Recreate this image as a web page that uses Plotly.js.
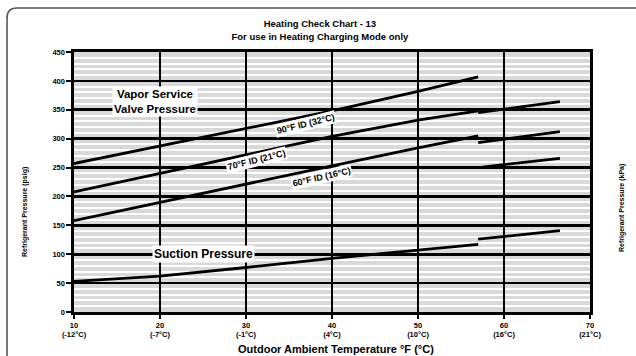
<!DOCTYPE html>
<html>
<head>
<meta charset="utf-8">
<script src="https://cdn.plot.ly/plotly-3.0.1.min.js"></script>
<style>
  html, body { margin: 0; padding: 0; background: #ffffff; }
  #chart { width: 636px; height: 356px; }
</style>
</head>
<body>
<div id="chart"></div>
<script>
// Outdoor ambient temperature (°F) for the main run of each curve
const tempF = [10, 20, 30, 40, 50, 57];
// Vapor service valve pressure (psig) by indoor temperature
const id90 = [257, 287, 317, 348, 382, 407];
const id70 = [208, 240, 272, 304, 332, 348];
const id60 = [158, 190, 221, 253, 284, 305];
// Suction pressure (psig)
const suction = [53, 62, 77, 93, 107, 117];

// Upper temperature range, drawn as separate segments after the step
const tempFHigh = [57, 66.5];
const id70High = [345, 364];
const id60High = [293, 312];
const lowerHigh = [250, 266];
const suctionHigh = [126, 141];

// Axis ticks
const xTickF = [10, 20, 30, 40, 50, 60, 70];
const xTickC = ['-12°C', '-7°C', '-1°C', '4°C', '10°C', '16°C', '21°C'];
const psiTicks = [0, 50, 100, 150, 200, 250, 300, 350, 400, 450];
const kpaTicks = ['0', '345', '689', '1034', '1379', '1724', '2068', '2413', '2757', '3102'];

const FONT = 'Liberation Sans, Arial, sans-serif';
const lineStyle = { color: '#000000', width: 2.8 };

function curve(x, y, name) {
  return { x: x, y: y, name: name, type: 'scatter', mode: 'lines', line: lineStyle,
           hoverinfo: 'x+y', showlegend: false };
}

const traces = [
  curve(tempF, id90, '90°F ID'),
  curve(tempF, id70, '70°F ID'),
  curve(tempF, id60, '60°F ID'),
  curve(tempF, suction, 'Suction'),
  curve(tempFHigh, id70High, '70°F ID high'),
  curve(tempFHigh, id60High, '60°F ID high'),
  curve(tempFHigh, lowerHigh, 'lower high'),
  curve(tempFHigh, suctionHigh, 'Suction high')
];

const tickFont = { family: FONT, size: 7.5, color: '#000', weight: 'bold' };

function boxLabel(x, y, text, size, angle) {
  return { x: x, y: y, xref: 'x', yref: 'y', text: text, showarrow: false,
           textangle: angle || 0, bgcolor: '#ffffff', borderpad: 1,
           font: { family: FONT, size: size, color: '#000', weight: 'bold' } };
}

const layout = {
  width: 636, height: 356,
  margin: { l: 74, r: 46, t: 52, b: 44 },
  paper_bgcolor: '#ffffff',
  plot_bgcolor: '#d9d9d9',
  showlegend: false,
  title: {
    text: 'Heating Check Chart - 13<br>For use in Heating Charging Mode only',
    x: 0.503, xanchor: 'center', y: 0.923, yanchor: 'middle', yref: 'container',
    font: { family: FONT, size: 9.5, color: '#000', weight: 'bold' }
  },
  xaxis: {
    range: [10, 70], tickmode: 'array', tickvals: xTickF,
    ticktext: xTickF.map((f, i) => f + '<br>(' + xTickC[i] + ')'),
    showgrid: true, gridcolor: '#000', gridwidth: 2.6,
    showline: true, linecolor: '#000', linewidth: 2.6, mirror: true,
    ticks: 'outside', ticklen: 4, tickwidth: 2, tickcolor: '#000',
    zeroline: false, tickfont: tickFont, fixedrange: true
  },
  yaxis: {
    range: [0, 450], tickmode: 'array', tickvals: psiTicks,
    showgrid: true, gridcolor: '#000', gridwidth: 2.6,
    minor: { dtick: 10, showgrid: true, gridcolor: '#ffffff', gridwidth: 2 },
    showline: true, linecolor: '#000', linewidth: 2.6, mirror: true,
    ticks: 'outside', ticklen: 5, tickwidth: 2, tickcolor: '#000',
    zeroline: false, tickfont: tickFont, fixedrange: true
  },
  yaxis2: {
    overlaying: 'y', side: 'right', range: [0, 450],
    tickmode: 'array', tickvals: psiTicks, ticktext: kpaTicks,
    showgrid: false, zeroline: false,
    showline: true, linecolor: '#000', linewidth: 2.6,
    ticks: 'outside', ticklen: 5, tickwidth: 2, tickcolor: '#000',
    tickfont: tickFont, fixedrange: true
  },
  annotations: [
    boxLabel(19.4, 364, 'Vapor Service<br>Valve Pressure', 11.5),
    boxLabel(25, 100, 'Suction Pressure', 12),
    boxLabel(36.9, 326, '90°F ID (32°C)', 9, -14),
    boxLabel(31.2, 263, '70°F ID (21°C)', 9, -14),
    boxLabel(38.8, 234, '60°F ID (16°C)', 9, -13),
    { x: 25, y: 212, xref: 'paper', yref: 'paper', text: 'Refrigerant Pressure (psig)',
      showarrow: false, textangle: -90, xanchor: 'center', yanchor: 'middle',
      font: { family: FONT, size: 7, color: '#000', weight: 'bold' } },
    { x: 622, y: 208, xref: 'paper', yref: 'paper', text: 'Refrigerant Pressure (kPa)',
      showarrow: false, textangle: -90, xanchor: 'center', yanchor: 'middle',
      font: { family: FONT, size: 7, color: '#000', weight: 'bold' } },
    { x: 336, y: 349, xref: 'paper', yref: 'paper', text: 'Outdoor Ambient Temperature °F (°C)',
      showarrow: false, xanchor: 'center', yanchor: 'middle',
      font: { family: FONT, size: 11, color: '#000', weight: 'bold' } }
  ],
  shapes: [
    // rounded page frame, top-left corner
    { type: 'path', xref: 'paper', yref: 'paper', layer: 'below',
      path: 'M -0.1298,-0.1846 L -0.1298,1.1308 Q -0.1298,1.1692 -0.1105,1.1692 L 1.097,1.1692',
      line: { color: '#555555', width: 1.6 } }
  ]
};

// Convert the pixel-placed page annotations into paper fractions of the plot area
const plotL = 74, plotW = 516, plotB = 312, plotH = 260;
layout.annotations.forEach(a => {
  if (a.xref === 'paper') {
    a.x = (a.x - plotL) / plotW;
    a.y = (plotB - a.y) / plotH;
  }
});

Plotly.newPlot('chart', traces, layout, { staticPlot: true, displayModeBar: false });
</script>
</body>
</html>
